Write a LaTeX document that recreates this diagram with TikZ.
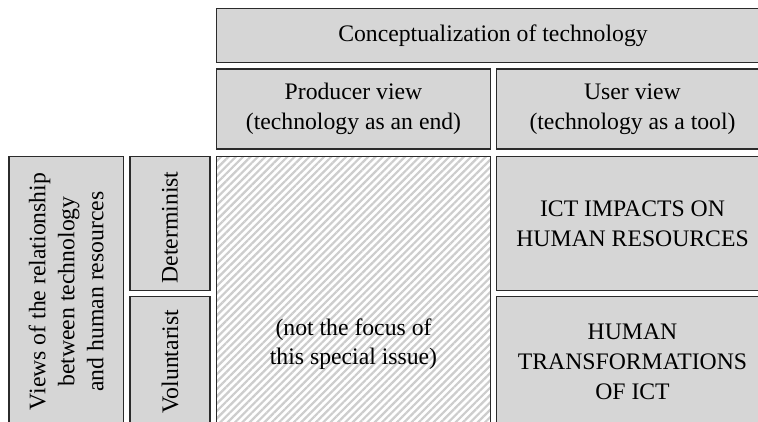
\documentclass[tikz,border=0pt]{standalone}
\usepackage{fontspec}
\setmainfont{Liberation Serif}
\usetikzlibrary{positioning, patterns.meta}
\definecolor{boxCol}{HTML}{D6D6D6}
\definecolor{edgeCol}{HTML}{2B2B2B}
\definecolor{hatchCol}{HTML}{CDCDCD}

\begin{document}
\begin{tikzpicture}[
    x=1pt, y=-1pt,
    % Node styles
    box/.style={
        rectangle,
        draw=edgeCol,
        fill=boxCol,
        line width=1.2pt,
        inner sep=0pt,
        outer sep=0pt,
        align=center,
        font=\fontsize{23.7}{30}\selectfont
    },
    hatched/.style={
        box,
        fill=none,
        preaction={fill=white},
        pattern={Lines[angle=45, distance=5.2pt, line width=2.2pt]},
        pattern color=hatchCol
    },
    vtext/.style={
        rotate=90,
        align=center,
        inner sep=0pt,
        font=\fontsize{23.7}{29}\selectfont
    },
    plain/.style={
        align=center,
        inner sep=0pt,
        font=\fontsize{23.7}{29}\selectfont
    }
]
    \useasboundingbox (0,0) rectangle (758,422);
    \clip (0,0) rectangle (758,422);

    % ==== COLUMN HEADERS ====
    \node[box, anchor=north west, minimum width=553pt, minimum height=54pt] (concept) at (216.5,8.5) {Conceptualization of technology};
    \node[box, below right=6.5pt and 0pt of concept.south west, minimum width=274pt, minimum height=80pt] (producer) {Producer view\\(technology as an end)};
    \node[box, right=6pt of producer, minimum width=272pt, minimum height=80pt] (user) {User view\\(technology as a tool)};

    % ==== ROW HEADERS ====
    \node[box, anchor=north west, minimum width=114.5pt, minimum height=270pt] (views) at (9,156.5) {};
    \node[vtext] (viewsText) at (views) {Views of the relationship\\between technology\\and human resources};
    \node[box, right=6.5pt of views.north east, anchor=north west, minimum width=80pt, minimum height=134pt] (determ) {};
    \node[vtext] (determText) at ([yshift=-4pt]determ.center) {Determinist};
    \node[box, below=6pt of determ, minimum width=80pt, minimum height=130pt] (volunt) {};
    \node[vtext] (voluntText) at (volunt) {Voluntarist};

    % ==== CELLS ====
    \node[hatched, right=6.5pt of determ.north east, anchor=north west, minimum width=274pt, minimum height=270pt] (focus) {};
    \node[plain] (focusText) at ([yshift=-53pt]focus.center) {(not the focus of\\this special issue)};
    \node[box, right=6pt of focus.north east, anchor=north west, minimum width=272pt, minimum height=134pt] (impacts) {ICT IMPACTS ON\\HUMAN RESOURCES};
    \node[box, below=6pt of impacts, minimum width=272pt, minimum height=130pt] (transf) {HUMAN\\TRANSFORMATIONS\\OF ICT};

\end{tikzpicture}
\end{document}
